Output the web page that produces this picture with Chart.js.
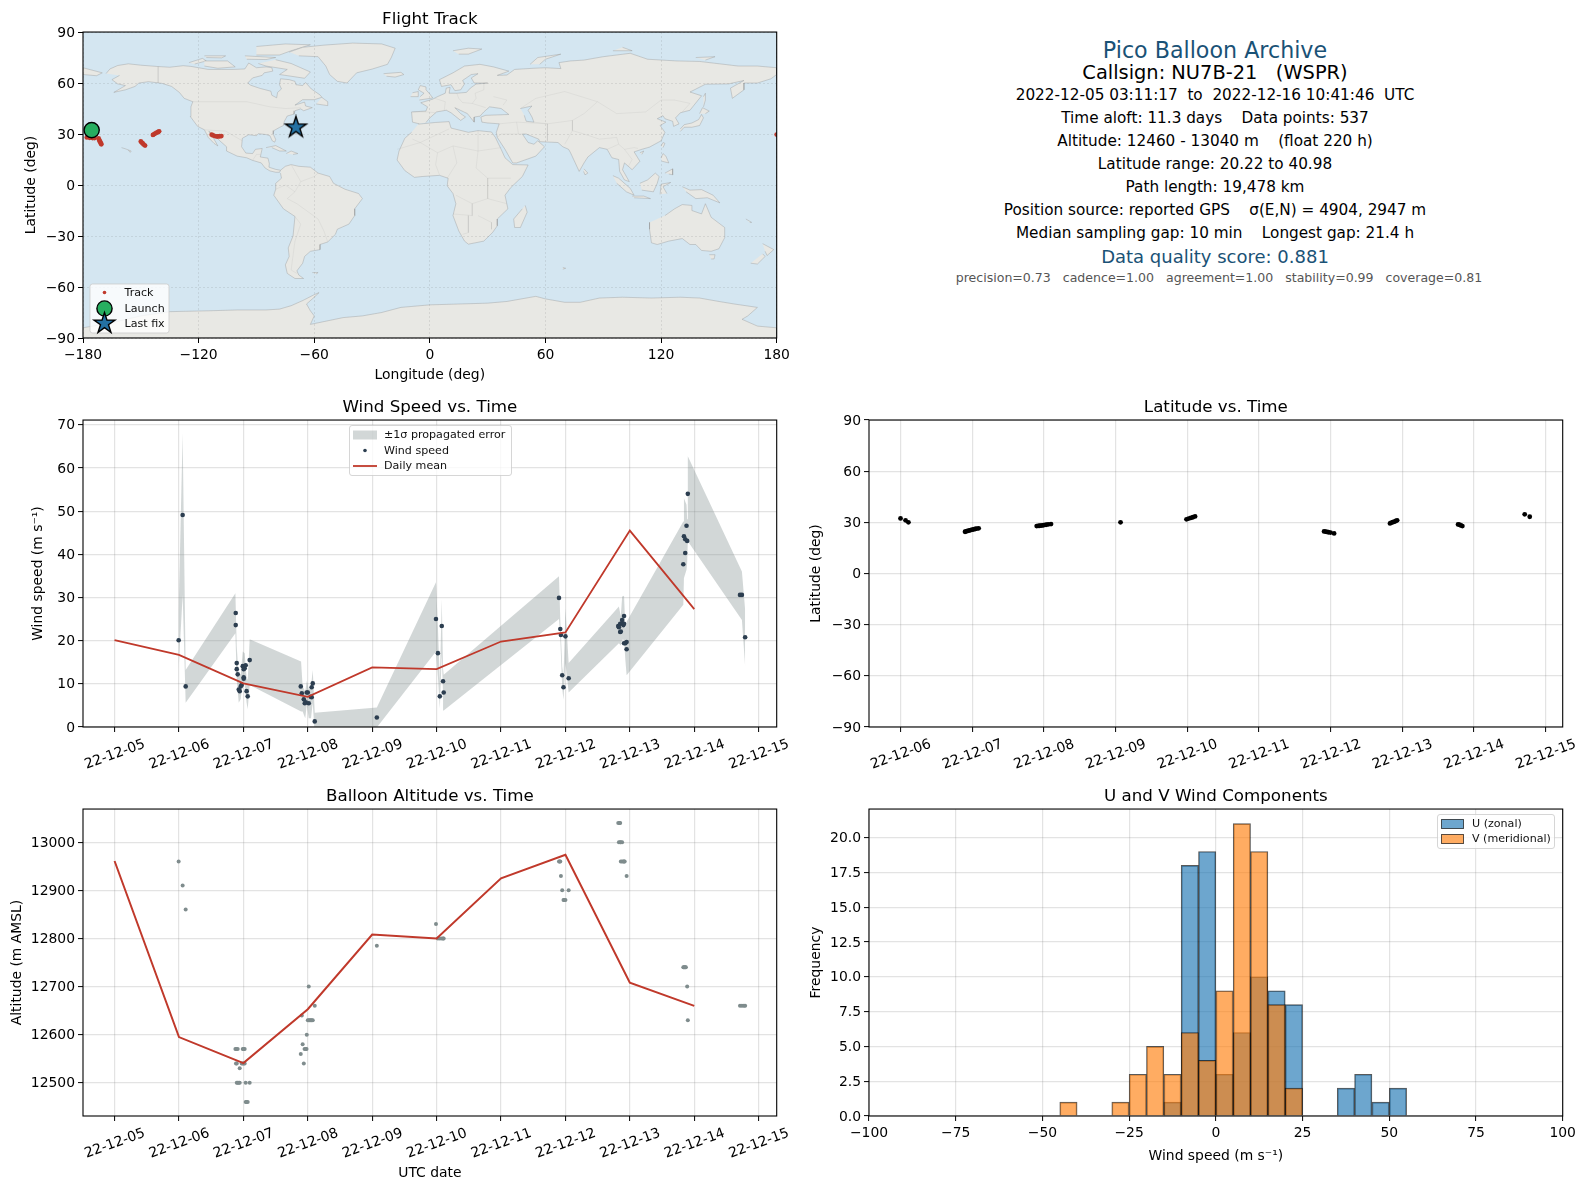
<!DOCTYPE html>
<html>
<head>
<meta charset="utf-8">
<title>Pico Balloon Archive</title>
<script src="https://cdn.jsdelivr.net/npm/chart.js@4/dist/chart.umd.min.js"></script>
<style>
  html,body{margin:0;padding:0;background:#fff;overflow:hidden}
  body{width:1586px;height:1189px;position:relative;font-family:"DejaVu Sans",sans-serif}
  canvas{position:absolute}
  .info{position:absolute;left:815px;width:800px;text-align:center;white-space:pre;transform:translateY(-50%);color:#000;font-size:15.25px;line-height:1.2}
</style>
</head>
<body>
<canvas id="chartWind" width="800" height="399" style="left:0;top:388px"></canvas>
<canvas id="chartLat" width="786" height="399" style="left:800px;top:388px"></canvas>
<canvas id="chartAlt" width="800" height="408" style="left:0;top:777px"></canvas>
<canvas id="chartHist" width="786" height="390" style="left:800px;top:777px"></canvas>
<canvas id="chartMap" width="800" height="386" style="left:0;top:0"></canvas>

<div class="info" style="top:50px;font-size:22.2px;color:#1a5276">Pico Balloon Archive</div>
<div class="info" style="top:73px;font-size:19.4px">Callsign: NU7B-21   (WSPR)</div>
<div class="info" style="top:94.5px">2022-12-05 03:11:17  to  2022-12-16 10:41:46  UTC</div>
<div class="info" style="top:117.5px">Time aloft: 11.3 days    Data points: 537</div>
<div class="info" style="top:140.5px">Altitude: 12460 - 13040 m    (float 220 h)</div>
<div class="info" style="top:163.5px">Latitude range: 20.22 to 40.98</div>
<div class="info" style="top:186.5px">Path length: 19,478 km</div>
<div class="info" style="top:209.5px">Position source: reported GPS    σ(E,N) = 4904, 2947 m</div>
<div class="info" style="top:232.5px">Median sampling gap: 10 min    Longest gap: 21.4 h</div>
<div class="info" style="top:257px;font-size:18px;color:#1a5276">Data quality score: 0.881</div>
<div class="info" style="top:278px;left:819px;font-size:12.55px;color:#555">precision=0.73   cadence=1.00   agreement=1.00   stability=0.99   coverage=0.81</div>

<script>
// tick labels, x value is the day of December 2022
const dayLabels = ['22-12-05','22-12-06','22-12-07','22-12-08','22-12-09','22-12-10','22-12-11','22-12-12','22-12-13','22-12-14','22-12-15'];

// daily means
const meanDays = [5,6,7,8,9,10,11,12,13,14];
const windMean = [20.1,16.7,10.1,7.0,13.8,13.4,19.8,21.9,45.5,27.3];
const altMean = [12961,12595,12541,12653,12808,12800,12925,12974,12708,12660];

// wind speed
const windDays = [5.995,6.057,6.104,6.881,6.881,6.897,6.897,6.912,6.928,6.943,6.959,6.974,6.99,7.005,7.005,7.005,7.02,7.036,7.05,7.067,7.098,
  7.891,7.907,7.938,7.953,7.969,7.984,8.0,8.015,8.046,8.06,8.06,8.077,8.108,9.072,
  9.99,10.02,10.05,10.08,10.10,10.11,11.90,11.92,11.93,11.95,11.97,12.0,12.05,
  12.82,12.83,12.85,12.86,12.85,12.88,12.88,12.90,12.91,12.91,12.91,12.93,12.95,12.95,
  13.83,13.84,13.86,13.86,13.88,13.89,13.90,14.71,14.74,14.79];
const windSpeed = [20.1,49.1,9.4,26.4,23.6,14.8,13.4,12.2,8.7,8.3,9.4,9.7,14.1,13.4,11.5,11.2,13.6,14.3,8.3,7.1,15.5,
  9.4,7.8,6.4,5.5,5.7,8.0,8.0,5.5,7.0,6.9,9.2,10.1,1.3,2.2,
  25.0,17.1,7.1,23.4,10.6,8.0,29.9,22.7,21.3,12.0,9.2,21.0,11.3,
  23.4,23.1,22.0,22.1,23.9,24.8,24.0,23.6,23.9,25.7,19.4,19.4,19.7,18.0,
  37.7,44.2,43.5,40.3,46.6,43.1,54.0,30.6,30.6,20.8];

// propagated error band
const bandDays = [5.995,6.057,6.104,6.876,6.897,6.928,6.959,6.99,7.02,7.05,7.067,7.098,7.896,7.92,7.96,7.985,8.015,8.05,8.077,8.108,9.072,
  9.99,10.02,10.05,10.08,10.10,10.11,11.90,11.92,11.95,11.97,12.0,12.05,12.83,12.86,12.88,12.91,12.93,12.95,13.83,13.84,13.88,13.89,13.90,14.74,14.79];
const bandHi = [26.8,68,13.2,31,18.6,11.7,12.3,17.5,17.1,11.5,10.9,20.3,15.2,9.4,8.2,10.7,8.6,9.4,13.2,3.3,4.5,
  33.5,23.3,10.5,29.6,13.5,12.1,34.9,24.8,14,11.5,27.5,14.8,27.9,25.6,30.2,30.4,22.8,24.4,47.6,53,51.5,48.1,62.7,36,27.1];
const bandLo = [13.4,30.6,5.6,21.7,11,5.6,6.5,10.5,10,5.6,4.1,9.7,3.6,3.6,2,5.2,2,2,5.6,-2,-0.1,
  17.5,11.7,4.3,17,7.5,3.8,25,20.6,9,6.3,14.8,8,19.4,18.9,20.2,20.2,15.6,12,28.3,34.5,36.4,38,43,24.8,14];

// altitude
const altDays = [5.995,6.057,6.104,6.876,6.89,6.912,6.99,7.005,7.02,6.885,6.897,6.974,6.99,7.005,7.02,6.943,6.897,6.912,6.928,6.943,7.036,7.098,7.036,7.05,7.067,
  7.891,7.907,7.92,7.938,7.95,7.97,7.98,7.984,8.0,8.015,8.03,8.046,8.06,8.077,8.015,8.108,9.072,
  9.99,10.02,10.05,10.08,10.10,10.11,11.90,11.91,11.92,11.93,11.95,12.05,11.97,11.98,12.0,
  12.82,12.84,12.85,12.83,12.85,12.86,12.88,12.86,12.88,12.90,12.91,12.92,12.95,
  13.83,13.84,13.85,13.86,13.87,13.89,13.90,14.71,14.74,14.77,14.79];
const altMeters = [12960,12910,12860,12570,12570,12570,12570,12570,12570,12540,12540,12540,12540,12540,12540,12530,12500,12500,12500,12500,12500,12500,12460,12460,12460,
  12560,12640,12580,12540,12570,12570,12570,12600,12630,12630,12630,12630,12630,12630,12700,12660,12785,
  12830,12800,12800,12800,12800,12800,12960,12960,12960,12930,12900,12900,12880,12880,12880,
  13040,13040,13040,13000,13000,13000,13000,12960,12960,12960,12960,12960,12930,
  12740,12740,12740,12740,12740,12700,12630,12660,12660,12660,12660];

// latitude
const latDays = [6.0,6.07,6.11,
  6.9,6.92,6.94,6.96,6.98,7.0,7.02,7.04,7.06,7.09,
  7.9,7.92,7.94,7.96,7.98,8.0,8.03,8.06,8.10,
  9.07,9.99,10.02,10.05,10.08,10.11,
  11.91,11.93,11.95,11.97,12.0,12.05,
  12.83,12.85,12.87,12.89,12.91,12.93,
  13.78,13.80,13.82,13.84,14.71,14.78];
const latDeg = [32.3,31.2,30.0,
  24.5,24.8,25.0,25.3,25.5,25.7,25.9,26.1,26.3,26.5,
  27.8,27.9,28.0,28.1,28.2,28.4,28.6,28.8,29.0,
  30.0,31.8,32.2,32.6,33.0,33.5,
  24.7,24.6,24.4,24.2,24.0,23.5,
  29.4,29.8,30.1,30.4,30.8,31.2,
  28.8,28.6,28.2,27.8,34.7,33.3];

// flight track
const trackLon = [-178,-176.5,-175,-174,-171.9,-171.6,-171.3,-171,-170.7,-170.5,
  -150,-149.5,-149,-148.5,-147.8,-143.7,-143,-142.4,-141.8,-141,-140.5,
  -113.2,-112.5,-111.5,-110.5,-110,-109,-108.2,180];
const trackLat = [28,27.8,27.6,27.6,27.4,26.6,25.8,25.2,24.5,24,
  25.6,25,24.5,23.8,23.2,29.5,30,30.4,30.8,31.2,31.6,
  29.6,29.2,28.8,28.6,28.6,28.7,28.8,29.7];
const launchFix = [-175.5,32.3];
const lastFix = [-69.5,33.9];

// wind components histogram, 5 m/s bins
const binCenters = [-42.5,-37.5,-32.5,-27.5,-22.5,-17.5,-12.5,-7.5,-2.5,2.5,7.5,12.5,17.5,22.5,27.5,32.5,37.5,42.5,47.5,52.5];
const uCounts = [0,0,0,0,0,0,1,18,19,3,6,10,9,8,0,0,2,3,1,2];
const vCounts = [1,0,0,1,3,5,3,6,4,9,21,19,8,2,0,0,0,0,0,0];

// coastlines, lon/lat
const northAmerica = [[-168,65.6],[-166,68.3],[-162,70.3],[-156.5,71.3],[-150,70.5],[-141,69.7],[-135,69.3],[-128,70.2],[-124,69.8],[-115,68],[-108,68],[-102,68],[-96,68.3],[-94,71.8],[-90,69],[-85,69.5],[-82,69],[-81.5,67],[-86,66],[-87,64.5],[-92,63],[-94.5,60],[-93,58.7],[-88,56.8],[-82.5,55.2],[-82,52.8],[-79.5,51.3],[-79,54.5],[-77,56.5],[-78,59],[-77.5,62.5],[-73,62],[-70,61],[-69.5,59],[-66,58.5],[-64.5,60.3],[-61.5,56.5],[-57,53],[-56,51.6],[-60,50.2],[-66,50.2],[-70,47],[-65,48.8],[-64.5,46.5],[-61,45.5],[-65.5,43.7],[-67,44.8],[-70,43.7],[-70.5,41.7],[-74,40.6],[-75.5,37.5],[-76,35],[-78,33.9],[-81,32],[-81.3,30],[-80,26.8],[-80.5,25.2],[-81.8,26],[-83,29],[-85,29.7],[-89,30.2],[-90,29],[-94,29.6],[-97.3,27.5],[-97.7,22.5],[-95.5,18.8],[-92,18.5],[-90.5,21],[-87,21.5],[-88,16.5],[-84,15.8],[-83.3,12.5],[-83.5,10.5],[-80,9.2],[-77.5,8.7],[-78,7.5],[-80,7.5],[-83,8.3],[-85.5,10],[-87.5,13],[-92,14.5],[-95,16],[-100,17],[-105.5,20],[-105.5,22.5],[-109,26],[-112.5,30],[-114.7,31.6],[-112,27],[-110,23],[-112,24.5],[-115,28],[-117,32.5],[-120.5,34.5],[-122.5,37.5],[-124.3,40.3],[-124,46],[-123,49],[-127.5,51],[-130,54.5],[-134,58],[-139,59.8],[-146,60.8],[-151,60],[-153,58],[-158,56],[-164,54.5],[-158,58.5],[-162,59.5],[-165,62],[-161,64.5]];
const southAmerica = [[-77.5,8.7],[-75,11],[-72,12],[-68,11],[-62,10.5],[-58,7],[-52,5],[-50,1],[-44,-2.5],[-37,-5],[-35,-8],[-39,-14],[-39,-18],[-42,-23],[-48,-26],[-49,-29],[-53,-33.5],[-57,-35],[-57,-38],[-62,-39],[-65,-42],[-66,-46],[-69,-50.5],[-68,-53],[-65.5,-55],[-70,-55],[-74,-52],[-75,-47],[-73,-42],[-73.5,-37],[-71,-30],[-70,-18.5],[-76,-14],[-81,-6],[-80,-2.5],[-80,1],[-77,4],[-77.5,7]];
const africa = [[-6,35.8],[3,36.8],[10,37.3],[11,33.5],[20,31],[25,32],[32,31.2],[34,28],[37,21],[39,16],[43,12],[51,11.8],[48,5],[42,-1.5],[39,-6],[40.5,-14],[35,-20],[35,-24],[32.5,-28],[28,-33],[20,-34.8],[18,-33],[15,-27],[12,-18],[13.5,-11],[12,-5],[9,-0.5],[9.5,4],[5,5.7],[-4,5],[-8,4.5],[-13,8.5],[-17,14.7],[-16,20],[-13,27.5],[-9.5,31]];
const eurasia = [[-5.5,36],[-9,37],[-9.5,43],[-2,43.5],[-1.2,46],[-4.7,48.4],[1.5,50.5],[4,52],[8,54],[8.5,57],[10.5,57.5],[10,54],[14,54],[19,54.5],[21,57],[24,59.4],[30,60],[23,60],[21.5,63],[25,65.5],[21.5,65],[17,61.5],[18,59.5],[16,56],[13,55.5],[11,59],[6,58],[5,62],[12,66],[18,70],[26,71],[33,69.5],[41,67],[35,64.5],[40,64.7],[44,68],[54,68.7],[60,69],[68,68.5],[67,72],[73,73],[80,73.5],[90,75.5],[104,77.5],[113,74],[128,73],[140,72.7],[160,70],[170,70],[180,69],[180,65],[177,62.5],[170,60],[163,60],[163,56],[157,51],[156,57],[163,61.5],[155,59.5],[143,59.3],[135,54.7],[141,52.5],[135,44],[130,42.5],[127.5,39.5],[129.3,36],[126.5,34.5],[126,37.5],[122,39],[121,40.8],[118,39],[122.5,37],[119.5,35],[122,31],[120,26],[114,22.3],[110,21],[106,19.5],[109,14],[105,9],[101,13],[100,9],[103.5,2],[101,3],[98.5,8],[98,15],[94.5,16],[92,21],[88,22],[82,16.5],[80,13],[77.5,8],[73,19],[72,21],[69,22.5],[66.5,25],[57,25.5],[56.5,27],[50,30],[48,30],[51,25],[54,24],[56,26],[59.5,22.5],[55,17],[45,13],[43,13],[39,21],[35,28],[34.5,31],[36,36],[30,36.5],[27,37],[26.5,40],[29,41],[41,41.5],[37,45],[31,46],[28,43],[26,40.5],[23,40],[23,37],[19.5,42],[13,45.5],[16,42],[18.5,40],[16,38],[11,42.5],[8.5,44],[3.5,43],[0,39.5],[-2,36.8]];
const antarctica = [[-180,-84],[-165,-81],[-150,-77],[-135,-74.5],[-115,-74],[-100,-73.5],[-85,-73.5],[-78,-73],[-72,-71],[-66,-68],[-60,-64.5],[-57.5,-63.3],[-60,-66],[-64,-70],[-62,-74],[-60,-77],[-62,-82],[-45,-78],[-35,-77],[-25,-75],[-15,-72],[0,-70.5],[15,-70],[30,-69.5],[40,-68.5],[50,-66.5],[55,-65.5],[60,-67],[70,-69],[78,-69],[88,-66.5],[100,-66],[115,-66.5],[130,-66],[140,-66.5],[150,-68.5],[158,-70],[170,-72],[165,-77],[162,-79],[170,-83],[180,-84],[180,-90],[-180,-90]];
const greenland = [[-73,78.2],[-66,81],[-55,82.3],[-40,83.5],[-25,83],[-18,80.5],[-20,75],[-22,71],[-30,68.2],[-38,66],[-43,60],[-48,61],[-52,65],[-54,70],[-58,75.5],[-68,76]];
const australia = [[114,-22],[114,-26],[115,-34],[118,-35],[124,-33],[131,-31.5],[135,-35],[138,-35],[141,-38.5],[146,-39],[150,-37.5],[153,-31],[153,-25],[146,-19],[143,-11],[141,-17],[136,-15],[136,-12],[131,-11.5],[127,-14],[122,-18]];
const chukotka = [[-180,69],[-175,67.5],[-170,66],[-173,64.3],[-180,65]];
const baffin = [[-80,73.7],[-72,71.5],[-67,69],[-62,66.5],[-65,62.8],[-72,64],[-78,65],[-74,68],[-85,70],[-89,71.5]];
const victoria = [[-117,73],[-105,73],[-101,69.5],[-110,68.7],[-117,70]];
const banks = [[-125,72],[-118,74.5],[-116,73],[-122,71.2]];
const ellesmere = [[-90,76.5],[-78,76.5],[-72,79],[-62,82.5],[-75,83],[-90,81.5]];
const devon = [[-96,76],[-80,75],[-85,73.8],[-95,74]];
const melville = [[-117,76],[-106,76],[-108,74.8],[-116,75]];
const newfoundland = [[-59,47.7],[-53,46.7],[-53,49],[-56,51.5]];
const cuba = [[-85,22],[-80,23.2],[-74.5,20],[-78,20],[-82,22]];
const hispaniola = [[-74.5,18.5],[-72,20],[-68.5,18.5],[-71,18]];
const hawaii = [[-160,22],[-158,21.3],[-155,20],[-155.5,19.2],[-156.5,20.5]];
const falklands = [[-61,-51.5],[-58,-51.5],[-59,-52.3]];
const madagascar = [[49.5,-12],[50.5,-16],[47,-25],[44,-25],[43.5,-20],[48,-14]];
const britain = [[-5.5,50],[1.5,51.2],[0,53.5],[-2,56],[-2,57.7],[-5,58.5],[-6,56],[-3,54],[-5,52]];
const ireland = [[-10,52],[-6,52],[-6,55],[-9,54.3]];
const iceland = [[-24,65.5],[-15,66.3],[-13.5,65],[-18,63.5],[-22.5,64]];
const svalbard = [[12,79],[20,80.5],[27,80],[20,77],[15,77]];
const novayaZemlya = [[52,71],[56,75],[68,77],[60,74],[57,71]];
const severnaya = [[95,79],[105,79],[100,81]];
const newSiberian = [[138,75],[148,75.5],[143,73.5]];
const honshu = [[130,31.5],[132,34],[136,34],[140,35],[142,39.5],[141,41.5],[139.5,38.5],[136,36.5],[132,35.5],[130,33]];
const hokkaido = [[140,42],[141.5,45.5],[145,43.5],[143,42]];
const sakhalin = [[142,46],[143,50],[143,54],[142,52]];
const taiwan = [[120,23],[121,25],[122,24.5],[121,22]];
const hainan = [[109,19],[111,20],[110,18]];
const luzon = [[120,16],[121,18.5],[122.5,17],[124,13],[120.5,14]];
const mindanao = [[122,7],[126,9.5],[126,6],[124,6.5]];
const sumatra = [[95,5.5],[98,4],[104,-2],[106,-6],[102,-4],[97,1]];
const java = [[105,-6.5],[111,-6.5],[114.5,-8],[106,-7.5]];
const borneo = [[109,1],[113,3],[117,7],[119,5],[118,1],[116,-4],[110,-3]];
const sulawesi = [[119.5,-5.5],[120,0.5],[125,1.5],[121,-1],[123,-5]];
const newGuinea = [[131,-1],[135,-3],[141,-2.7],[147,-6],[150.5,-10.5],[144,-7.5],[138,-8],[133,-4]];
const tasmania = [[145,-41],[148,-41],[147.5,-43.5],[146,-43.5]];
const nzNorth = [[172.7,-34.5],[178.5,-38],[175,-41.5],[174,-39]];
const nzSouth = [[172.7,-40.5],[174,-42],[170,-46.5],[166.5,-46]];
const sriLanka = [[80,9.5],[82,7],[80.5,6],[79.8,8]];
const newCaledonia = [[164,-20],[167,-22],[166,-22]];
const kerguelen = [[69,-48.5],[70.5,-49],[69,-49.5]];
const landShapes = [northAmerica,southAmerica,africa,eurasia,antarctica,greenland,australia,chukotka,baffin,victoria,banks,ellesmere,devon,melville,newfoundland,cuba,hispaniola,hawaii,falklands,madagascar,britain,ireland,iceland,svalbard,novayaZemlya,severnaya,newSiberian,honshu,hokkaido,sakhalin,taiwan,hainan,luzon,mindanao,sumatra,java,borneo,sulawesi,newGuinea,tasmania,nzNorth,nzSouth,sriLanka,newCaledonia,kerguelen];
const caspian = [[47,45],[53,46.5],[51,44],[53,40],[54,37],[50,37.5],[49,41]];

// faint country borders
const borderLines = [
  [[-141,69.7],[-141,60]],
  [[-123,49],[-95,49],[-83,46],[-75,45],[-67,45.5]],
  [[-117,32.5],[-106,31.7],[-97.3,26]],
  [[-92,14.5],[-90,18],[-88,18]],
  [[-72,12],[-67,2],[-70,-4],[-74,-8],[-69,-11],[-58,-20],[-55,-27],[-53,-33.5]],
  [[-58,7],[-60,5],[-67,2]],
  [[-70,-18.5],[-67,-23],[-70,-33],[-72,-50],[-69,-52]],
  [[-80,-2.5],[-75,0],[-70,-4]],
  [[-9,43],[-1.5,43],[3,42.5]],
  [[2.5,51],[8,49],[7.5,44]],
  [[14,54],[15,51],[17,48.5],[22,48],[24,51],[23.5,54],[28,56],[28,60]],
  [[22,48],[29,45.5]],
  [[33,52],[40,50],[38,47]],
  [[47,45],[55,51],[70,55],[87,49],[97,42],[112,43],[120,50],[127,50],[135,48],[131,43]],
  [[87,49],[80,42],[74,38],[61,36],[54,37]],
  [[74,38],[74,32],[70,24]],
  [[74,32],[80,30],[88,27],[97,28],[98,24],[92,21]],
  [[98,24],[101,21],[106,22],[108,21.5]],
  [[101,21],[105,15],[103,11]],
  [[36,36],[45,37],[46,30],[48,30]],
  [[46,30],[37,30],[35,28]],
  [[45,37],[61,36],[61,26]],
  [[-9,27],[-5,25],[10,33]],
  [[-17,21],[-5,25],[4,19],[12,23],[25,20],[25,32]],
  [[25,20],[24,10],[30,4],[42,4]],
  [[4,19],[3,12],[5,6]],
  [[12,23],[14,13],[9,4]],
  [[25,20],[37,22]],
  [[30,4],[30,-8],[22,-11],[13.5,-6]],
  [[30,-8],[40,-11]],
  [[22,-11],[22,-18],[12,-17]],
  [[20,-18],[20,-28],[17,-29]],
  [[25,-18],[32,-22],[32,-26]]
];

const RED = '#c0392b', NAVY = '#2c3e50', SLATE = '#7f8c8d';
const FONT = '"DejaVu Sans", sans-serif';
Chart.defaults.font.family = FONT;
Chart.defaults.font.size = 13.9;
Chart.defaults.color = '#000';
Chart.defaults.animation = false;
Chart.defaults.devicePixelRatio = 1;

const pts = (xs, ys) => xs.map((x, i) => ({x, y: ys[i]}));
const lonlat = a => a.map(p => ({x: p[0], y: p[1]}));
const minus = v => String(v).replace('-', '\u2212');

// filled five point star, used as a point style
function starPath(ctx, cx, cy, R){
  ctx.beginPath();
  for(let i = 0; i < 10; i++){
    const r = i % 2 ? R * 0.382 : R;
    const a = -Math.PI / 2 + i * Math.PI / 5;
    ctx.lineTo(cx + r * Math.cos(a), cy + r * Math.sin(a));
  }
  ctx.closePath();
}
function starImage(R){
  const c = document.createElement('canvas');
  c.width = c.height = 2 * R + 4;
  const ctx = c.getContext('2d');
  starPath(ctx, R + 2, R + 2, R);
  ctx.fillStyle = '#2471a3'; ctx.strokeStyle = '#000'; ctx.lineWidth = 1.4;
  ctx.fill(); ctx.stroke();
  return c;
}

// centres the title over the axes, not over the canvas
Chart.register({ id: 'titleOverAxes', afterLayout(chart){
  if(chart.titleBlock){ chart.titleBlock.left = chart.chartArea.left; chart.titleBlock.right = chart.chartArea.right; }
}});

// matplotlib style closed frame and optional sea colour
Chart.register({ id: 'frame',
  beforeDatasetsDraw(chart, args, o){
    if(!o.bg) return;
    const a = chart.chartArea;
    chart.ctx.fillStyle = o.bg;
    chart.ctx.fillRect(a.left, a.top, a.width, a.height);
  },
  afterDraw(chart){
    const a = chart.chartArea, ctx = chart.ctx;
    ctx.save(); ctx.strokeStyle = '#000'; ctx.lineWidth = 1.1;
    ctx.strokeRect(a.left, a.top, a.width, a.height);
    ctx.restore();
  }
});

// legend placed inside the axes
Chart.register({ id: 'innerLegend', afterDraw(chart, args, o){
  if(!o.items) return;
  const ctx = chart.ctx, [x, y, w, h] = o.box;
  ctx.save();
  ctx.beginPath(); ctx.roundRect(x, y, w, h, 2.5);
  ctx.fillStyle = 'rgba(255,255,255,0.8)'; ctx.fill();
  ctx.strokeStyle = 'rgba(204,204,204,0.8)'; ctx.lineWidth = 1; ctx.stroke();
  ctx.font = o.fontSize + 'px ' + FONT; ctx.textBaseline = 'middle'; ctx.textAlign = 'left';
  for(const it of o.items){
    const mid = o.markX + o.markW / 2;
    if(it.kind === 'rect'){
      ctx.fillStyle = it.color; ctx.fillRect(o.markX, it.y - 4.5, o.markW, 9);
      if(it.edge){ ctx.strokeStyle = it.edge; ctx.strokeRect(o.markX, it.y - 4.5, o.markW, 9); }
    } else if(it.kind === 'line'){
      ctx.strokeStyle = it.color; ctx.lineWidth = 1.8;
      ctx.beginPath(); ctx.moveTo(o.markX, it.y); ctx.lineTo(o.markX + o.markW, it.y); ctx.stroke();
    } else if(it.kind === 'dot'){
      ctx.fillStyle = it.color; ctx.beginPath(); ctx.arc(mid, it.y, it.r, 0, 7); ctx.fill();
      if(it.edge){ ctx.strokeStyle = it.edge; ctx.lineWidth = 1.4; ctx.stroke(); }
    } else if(it.kind === 'star'){
      starPath(ctx, mid, it.y, it.r);
      ctx.fillStyle = it.color; ctx.fill();
      ctx.strokeStyle = it.edge; ctx.lineWidth = 1.4; ctx.stroke();
    }
    ctx.fillStyle = '#111';
    ctx.fillText(it.text, o.textX, it.y + 0.5);
  }
  ctx.restore();
}});

const GRID = 'rgba(128,128,128,0.22)';
const gridOpts = { color: GRID, lineWidth: 1.2, tickColor: '#000', tickWidth: 1, tickLength: 5 };

function xAxisDays(min, max, height, titleText){
  return {
    type: 'linear', min, max,
    afterFit: s => { s.height = height; },
    grid: gridOpts,
    border: { display: false },
    title: titleText ? { display: true, text: titleText, padding: {top: 0, bottom: 3} } : { display: false },
    ticks: { stepSize: 1, includeBounds: false, autoSkip: false, minRotation: 20, maxRotation: 20, labelOffset: 30, padding: 4,
      callback: v => dayLabels[v - 5] }
  };
}
function yAxis(width, titleText, titlePad, extra, ticks){
  return Object.assign({
    type: 'linear',
    afterFit: s => { s.width = width; },
    grid: gridOpts,
    border: { display: false },
    title: { display: true, text: titleText, padding: {top: titlePad, bottom: 0} },
    ticks: Object.assign({ includeBounds: false, padding: 3, labelOffset: 1, callback: v => String(v) }, ticks)
  }, extra);
}
function plotOptions(titleText, scales, plugins){
  return {
    responsive: false,
    layout: { padding: { right: 23.3 } },
    scales,
    plugins: Object.assign({
      legend: { display: false },
      tooltip: { enabled: false },
      title: { display: true, text: titleText, font: { size: 16.7, weight: 'normal' }, padding: { top: 9.5, bottom: 2.5 } }
    }, plugins)
  };
}
const dots = (label, data, color, r) => ({ type: 'scatter', label, data, showLine: false, pointRadius: r, pointBorderWidth: 0, pointBackgroundColor: color, backgroundColor: color, borderColor: color });

// Flight track
const landSets = landShapes.map(s => ({ label: 'land', data: lonlat(s), fill: 'shape', backgroundColor: '#e8e8e4', borderColor: 'rgba(140,140,140,0.5)', borderWidth: 0.7, pointRadius: 0, tension: 0 }));
const borderSets = borderLines.map(s => ({ label: 'border', data: lonlat(s), fill: false, borderColor: 'rgba(150,150,150,0.18)', borderWidth: 0.7, pointRadius: 0 }));
const mapGrid = { color: 'rgba(110,110,110,0.2)', tickColor: '#000', tickWidth: 1, tickLength: 5, z: 1, lineWidth: 0.8 };
new Chart(document.getElementById('chartMap'), {
  type: 'line',
  data: { datasets: [
    { ...dots('Last fix', [{x: lastFix[0], y: lastFix[1]}], '#2471a3', 11), pointStyle: starImage(11) },
    { ...dots('Launch', [{x: launchFix[0], y: launchFix[1]}], '#27ae60', 7.6), pointBorderWidth: 1.4, pointBorderColor: '#000' },
    dots('Track', pts(trackLon, trackLat), RED, 2.4),
    ...borderSets,
    { label: 'caspian', data: lonlat(caspian), fill: 'shape', backgroundColor: '#d4e6f1', borderColor: 'rgba(140,140,140,0.5)', borderWidth: 0.7, pointRadius: 0 },
    ...landSets
  ] },
  options: plotOptions('Flight Track', {
    x: { type: 'linear', min: -180, max: 180,
      afterFit: s => { s.height = 48; },
      grid: mapGrid,
      border: { display: false, dash: [2, 2] },
      title: { display: true, text: 'Longitude (deg)', padding: {top: 0, bottom: 2} },
      ticks: { stepSize: 60, padding: 4, callback: minus } },
    y: yAxis(83, 'Latitude (deg)', 23, { min: -90, max: 90, grid: mapGrid, border: { display: false, dash: [2, 2] } }, { stepSize: 30, callback: minus })
  }, {
    frame: { bg: '#d4e6f1' },
    innerLegend: { box: [90, 284, 79, 49], fontSize: 11.1, markX: 93, markW: 23, textX: 124.5, items: [
      { kind: 'dot', text: 'Track', y: 292.5, color: RED, r: 1.8 },
      { kind: 'dot', text: 'Launch', y: 308.5, color: '#27ae60', edge: '#000', r: 7.6 },
      { kind: 'star', text: 'Last fix', y: 323.5, color: '#2471a3', edge: '#000', r: 11 }
    ] }
  })
});

// Wind speed
new Chart(document.getElementById('chartWind'), {
  type: 'line',
  data: { datasets: [
    { label: 'Daily mean', data: pts(meanDays, windMean), borderColor: RED, borderWidth: 1.8, pointRadius: 0, fill: false },
    dots('Wind speed', pts(windDays, windSpeed), NAVY, 2.3),
    { label: 'sigma low', data: pts(bandDays, bandLo), borderWidth: 0, pointRadius: 0, fill: false },
    { label: '\u00b11\u03c3 propagated error', data: pts(bandDays, bandHi), borderWidth: 0, pointRadius: 0, fill: '-1', backgroundColor: 'rgba(127,140,141,0.35)' }
  ] },
  options: plotOptions('Wind Speed vs. Time', {
    x: xAxisDays(4.51, 15.28, 60),
    y: yAxis(83, 'Wind speed (m s\u207b\u00b9)', 30, { min: 0, max: 71.1 }, { stepSize: 10 })
  }, {
    innerLegend: { box: [349.5, 37.5, 162, 50], fontSize: 11.1, markX: 353, markW: 24, textX: 384, items: [
      { kind: 'rect', text: '\u00b11\u03c3 propagated error', y: 47, color: 'rgba(127,140,141,0.35)' },
      { kind: 'dot', text: 'Wind speed', y: 62.5, color: NAVY, r: 1.8 },
      { kind: 'line', text: 'Daily mean', y: 78, color: RED }
    ] }
  })
});

// Latitude
new Chart(document.getElementById('chartLat'), {
  type: 'line',
  data: { datasets: [ dots('Latitude', pts(latDays, latDeg), '#000', 2.4) ] },
  options: plotOptions('Latitude vs. Time', {
    x: xAxisDays(5.56, 15.24, 60),
    y: yAxis(69, 'Latitude (deg)', 8, { min: -90, max: 90 }, { stepSize: 30, callback: minus })
  }, {})
});

// Altitude
new Chart(document.getElementById('chartAlt'), {
  type: 'line',
  data: { datasets: [
    { label: 'Daily mean', data: pts(meanDays, altMean), borderColor: RED, borderWidth: 2, pointRadius: 0, fill: false },
    dots('Altitude', pts(altDays, altMeters), SLATE, 2)
  ] },
  options: plotOptions('Balloon Altitude vs. Time', {
    x: xAxisDays(4.51, 15.28, 69, 'UTC date'),
    y: yAxis(83, 'Altitude (m AMSL)', 9, { min: 12431, max: 13069 }, { stepSize: 100 })
  }, {})
});

// U and V histogram
const barStyle = { barPercentage: 1, categoryPercentage: 1, borderWidth: 1, grouped: false };
new Chart(document.getElementById('chartHist'), {
  type: 'bar',
  data: { datasets: [
    { ...barStyle, label: 'U (zonal)', order: 2, data: pts(binCenters, uCounts), backgroundColor: 'rgba(31,119,180,0.65)', borderColor: 'rgba(0,0,0,0.65)' },
    { ...barStyle, label: 'V (meridional)', order: 1, data: pts(binCenters, vCounts), backgroundColor: 'rgba(255,127,14,0.65)', borderColor: 'rgba(0,0,0,0.65)' }
  ] },
  options: plotOptions('U and V Wind Components', {
    x: { type: 'linear', min: -100, max: 100, offset: false,
      afterFit: s => { s.height = 51; },
      grid: { ...gridOpts, offset: false },
      border: { display: false },
      title: { display: true, text: 'Wind speed (m s\u207b\u00b9)', padding: {top: 0, bottom: 2} },
      ticks: { stepSize: 25, padding: 4, callback: minus } },
    y: yAxis(69, 'Frequency', 8, { min: 0, max: 22.05 }, { stepSize: 2.5, callback: v => v.toFixed(1) })
  }, {
    innerLegend: { box: [637.5, 37.5, 117, 34], fontSize: 11.1, markX: 641.5, markW: 22, textX: 672, items: [
      { kind: 'rect', text: 'U (zonal)', y: 47, color: 'rgba(31,119,180,0.65)', edge: 'rgba(0,0,0,0.65)' },
      { kind: 'rect', text: 'V (meridional)', y: 62, color: 'rgba(255,127,14,0.65)', edge: 'rgba(0,0,0,0.65)' }
    ] }
  })
});
</script>
</body>
</html>
